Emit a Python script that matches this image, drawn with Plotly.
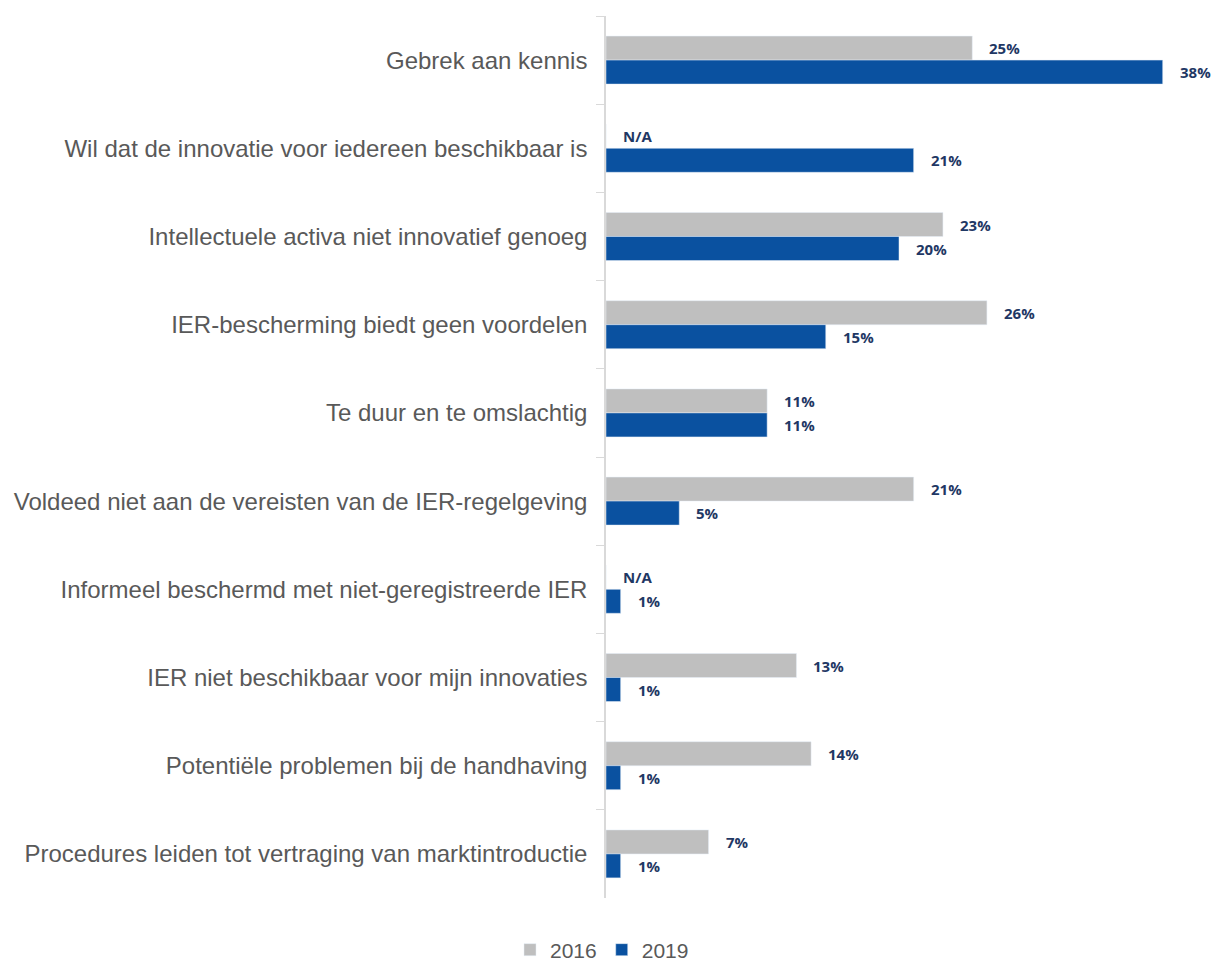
import plotly.graph_objects as go

categories = [
    "Gebrek aan kennis",
    "Wil dat de innovatie voor iedereen beschikbaar is",
    "Intellectuele activa niet innovatief genoeg",
    "IER-bescherming biedt geen voordelen",
    "Te duur en te omslachtig",
    "Voldeed niet aan de vereisten van de IER-regelgeving",
    "Informeel beschermd met niet-geregistreerde IER",
    "IER niet beschikbaar voor mijn innovaties",
    "Potentiële problemen bij de handhaving",
    "Procedures leiden tot vertraging van marktintroductie",
]
values_2016 = [25, None, 23, 26, 11, 21, None, 13, 14, 7]
values_2019 = [38, 21, 20, 15, 11, 5, 1, 1, 1, 1]

GRAY = "#BFBFBF"
BLUE = "#0A51A0"
LABEL = "#1F3864"
LABEL_FONT = dict(family="Open Sans", size=15, color=LABEL, weight="bold")

fig = go.Figure()
fig.add_trace(go.Bar(
    name="2016", y=categories, x=[v if v is not None else 0 for v in values_2016],
    orientation="h", marker_color=GRAY, hoverinfo="skip",
))
fig.add_trace(go.Bar(
    name="2019", y=categories, x=values_2019,
    orientation="h", marker_color=BLUE, hoverinfo="skip",
))

annotations = []
for cat, v16, v19 in zip(categories, values_2016, values_2019):
    annotations.append(dict(
        x=v16 if v16 is not None else 0, y=cat,
        text="N/A" if v16 is None else f"{v16}%",
        xanchor="left", yanchor="middle", xshift=15, yshift=12,
        showarrow=False, font=LABEL_FONT,
    ))
    annotations.append(dict(
        x=v19, y=cat, text=f"{v19}%",
        xanchor="left", yanchor="middle", xshift=15, yshift=-12,
        showarrow=False, font=LABEL_FONT,
    ))

fig.update_layout(
    width=1213, height=964,
    margin=dict(l=606, r=21, t=16, b=66, autoexpand=False),
    barmode="group", bargap=0.456, bargroupgap=0,
    plot_bgcolor="white", paper_bgcolor="white",
    font=dict(family="Liberation Sans, Arial", color="#595959"),
    annotations=annotations,
    legend=dict(
        orientation="h", xref="container", x=602 / 1213, xanchor="center",
        yref="container", y=14 / 964, yanchor="middle",
        font=dict(size=21, color="#595959"),
        traceorder="normal", itemwidth=30,
    ),
    xaxis=dict(
        range=[0, 40], showticklabels=False, showgrid=False, zeroline=False,
        showline=False, fixedrange=True,
    ),
    yaxis=dict(
        autorange="reversed", type="category", automargin=False,
        showline=True, linecolor="#D9D9D9", linewidth=1.5,
        ticks="outside", tickson="boundaries", ticklen=8, tickcolor="#D9D9D9",
        tickfont=dict(size=24, color="#595959"),
        ticklabelstandoff=12, showgrid=False, fixedrange=True,
    ),
)

fig.write_html("out.html", config={"displayModeBar": False},
               post_script="document.body.style.margin='0';")
